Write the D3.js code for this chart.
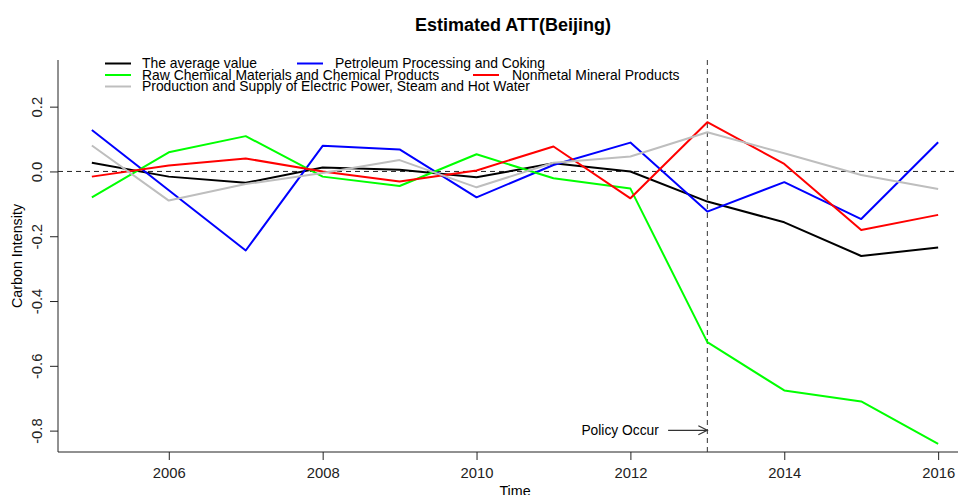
<!DOCTYPE html>
<html>
<head>
<meta charset="utf-8">
<script src="https://cdn.jsdelivr.net/npm/d3@7"></script>
<style>
  body { margin: 0; background: #fff; }
  svg { font-family: "Liberation Sans", Arial, sans-serif; }
</style>
</head>
<body>
<svg id="chart"></svg>
<script>
// data
const years = [2005, 2006, 2007, 2008, 2009, 2010, 2011, 2012, 2013, 2014, 2015, 2016];
const avgValue  = [0.027, -0.016, -0.035, 0.012, 0.005, -0.018, 0.025, 0.000, -0.093, -0.157, -0.261, -0.235];
const petroleum = [0.128, -0.058, -0.244, 0.079, 0.068, -0.080, 0.020, 0.089, -0.124, -0.033, -0.147, 0.090];
const rawChem   = [-0.080, 0.059, 0.109, -0.016, -0.045, 0.053, -0.021, -0.053, -0.527, -0.676, -0.710, -0.841];
const nonmetal  = [-0.016, 0.018, 0.040, 0.000, -0.031, 0.003, 0.077, -0.083, 0.152, 0.023, -0.181, -0.134];
const electric  = [0.080, -0.090, -0.039, -0.005, 0.035, -0.049, 0.027, 0.046, 0.121, 0.056, -0.011, -0.054];
const seriesNames = [
  "The average value",
  "Petroleum Processing and Coking",
  "Raw Chemical Materials and Chemical Products",
  "Nonmetal Mineral Products",
  "Production and Supply of Electric Power, Steam and Hot Water"
];
const xTicks = [2006, 2008, 2010, 2012, 2014, 2016];
const yTicks = [0.2, 0.0, -0.2, -0.4, -0.6, -0.8];
const policyYear = 2013;

const W = 958, H = 495;
const plotLeft = 58, plotBottom = 452, plotTop = 60, plotRight = 972;

const svg = d3.select("#chart").attr("width", W).attr("height", H);

const x = d3.scaleLinear().domain([2004.56, 2016.44]).range([plotLeft, plotRight]);
const y = d3.scaleLinear().domain([-0.866, 0.344]).range([plotBottom, plotTop]);

// title
svg.append("text")
  .attr("x", 513).attr("y", 31)
  .attr("text-anchor", "middle")
  .attr("font-size", 18).attr("font-weight", "bold")
  .text("Estimated ATT(Beijing)");

// axes
const xAxis = svg.append("g")
  .attr("transform", "translate(0," + plotBottom + ")")
  .call(d3.axisBottom(x).tickValues(xTicks).tickFormat(d3.format("d")).tickSize(8).tickSizeOuter(0));
xAxis.select(".domain").attr("d", "M" + plotLeft + ",0H" + W);
xAxis.selectAll("text").attr("font-size", 14.8).attr("y", 26).attr("dy", 0).attr("fill", "#222");

const yAxis = svg.append("g")
  .attr("transform", "translate(" + plotLeft + ",0)")
  .call(d3.axisLeft(y).tickValues(yTicks).tickFormat(d => d.toFixed(1)).tickSize(8).tickSizeOuter(0));
yAxis.select(".domain").attr("d", "M0," + plotTop + "V" + plotBottom);
yAxis.selectAll(".tick text")
  .attr("font-size", 14.8).attr("fill", "#222")
  .attr("text-anchor", "middle")
  .attr("x", 0).attr("dy", 0)
  .attr("transform", "translate(-16,0) rotate(-90)");
svg.selectAll(".domain, .tick line").attr("stroke", "#222");

// axis titles
svg.append("text")
  .attr("transform", "translate(22," + (plotTop + plotBottom) / 2 + ") rotate(-90)")
  .attr("text-anchor", "middle").attr("font-size", 14.3)
  .text("Carbon Intensity");
svg.append("text")
  .attr("x", (plotLeft + plotRight) / 2).attr("y", 496)
  .attr("text-anchor", "middle").attr("font-size", 14.3)
  .text("Time");

// reference lines
svg.append("line")
  .attr("x1", plotLeft).attr("x2", W).attr("y1", y(0)).attr("y2", y(0))
  .attr("stroke", "#222").attr("stroke-dasharray", "5,4");
svg.append("line")
  .attr("x1", x(policyYear)).attr("x2", x(policyYear)).attr("y1", plotTop).attr("y2", plotBottom)
  .attr("stroke", "#333").attr("stroke-dasharray", "5,4");

// series lines
const line = d3.line().x((d, i) => x(years[i])).y(d => y(d));
const series = [avgValue, petroleum, rawChem, nonmetal, electric];
const colors = ["#000000", "#0000FF", "#00FF00", "#FF0000", "#BEBEBE"];
series.forEach((s, k) => {
  svg.append("path")
    .datum(s)
    .attr("d", line)
    .attr("fill", "none")
    .attr("stroke", colors[k])
    .attr("stroke-width", 2)
    .attr("stroke-linejoin", "round");
});

// policy annotation
const ay = y(-0.799);
svg.append("text")
  .attr("x", x(2012.37)).attr("y", ay + 5)
  .attr("text-anchor", "end").attr("font-size", 13.8)
  .text("Policy Occur");
const ax0 = x(2012.49), ax1 = x(policyYear);
svg.append("path")
  .attr("d", "M" + ax0 + "," + ay + "H" + ax1 + "M" + (ax1 - 9) + "," + (ay - 4.5) + "L" + ax1 + "," + ay + "L" + (ax1 - 9) + "," + (ay + 4.5))
  .attr("fill", "none").attr("stroke", "#333").attr("stroke-width", 1.2);

// legend (no box), laid out as in the picture
const legendPos = [
  { lx: 105, tx: 142, cy: 63.5 },
  { lx: 297, tx: 335, cy: 63.5 },
  { lx: 105, tx: 142, cy: 75 },
  { lx: 473, tx: 512, cy: 75 },
  { lx: 105, tx: 142, cy: 86.5 }
];
const legend = svg.append("g");
seriesNames.forEach((name, k) => {
  const p = legendPos[k];
  legend.append("line")
    .attr("x1", p.lx).attr("x2", p.lx + 26).attr("y1", p.cy).attr("y2", p.cy)
    .attr("stroke", colors[k]).attr("stroke-width", 2);
  legend.append("text")
    .attr("x", p.tx).attr("y", p.cy + 4.6)
    .attr("font-size", 13.9)
    .text(name);
});
</script>
</body>
</html>
